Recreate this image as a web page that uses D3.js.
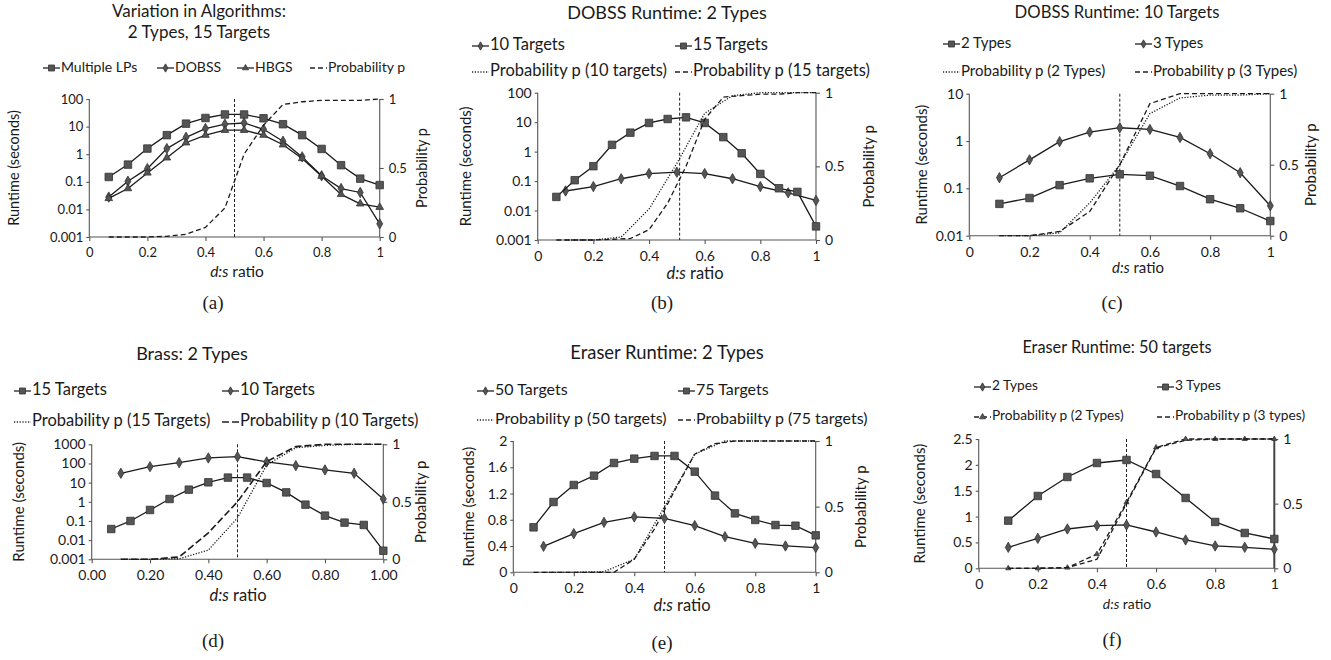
<!DOCTYPE html>
<html lang="en">
<head>
<meta charset="utf-8">
<title>Runtime vs d:s ratio</title>
<script src="https://d3js.org/d3.v7.min.js"></script>
<style type="text/css">
  body { margin: 0; background: #fff; }
  text { font-family: Lato, "Open Sans", sans-serif; fill: #1a1a1a; }
  .cap { font-family: "Liberation Serif", serif; font-size: 19px; }
</style>
</head>
<body>
<script type="text/javascript">

// x positions (d:s ratio)
var x15 = [0.067, 0.133, 0.2, 0.267, 0.333, 0.4, 0.467, 0.533, 0.6, 0.667, 0.733, 0.8, 0.867, 0.933, 1];
var x10 = [0.1, 0.2, 0.3, 0.4, 0.5, 0.6, 0.7, 0.8, 0.9, 1];
var xTicks = [0, 0.2, 0.4, 0.6, 0.8, 1];
var probTicks = [0, 0.5, 1];

// (a) Variation in Algorithms
var aMultipleLPs = [0.15, 0.42, 1.6, 4.9, 12.8, 20.5, 27.5, 27.5, 20, 12.2, 4.9, 1.55, 0.4, 0.13, 0.076];
var aDOBSS = [0.028, 0.105, 0.3, 1.6, 4.1, 8.5, 12.2, 13.5, 8, 2.95, 0.8, 0.165, 0.057, 0.041, 0.003];
var aHBGS = [0.025, 0.057, 0.21, 0.74, 2.6, 4.9, 7.4, 7.4, 4.9, 2.2, 0.7, 0.16, 0.035, 0.016, 0.012];
var aProb = [0, 0, 0, 0.005, 0.02, 0.07, 0.21, 0.6, 0.81, 0.96, 0.98, 0.99, 0.99, 0.99, 1];

// (b) DOBSS Runtime: 2 Types
var b10Targets = [0.046, 0.065, 0.12, 0.18, 0.2, 0.18, 0.12, 0.065, 0.04, 0.022];
var b15Targets = [0.029, 0.107, 0.32, 1.7, 4.4, 9.4, 12.8, 14.6, 9.4, 3.1, 0.88, 0.175, 0.057, 0.043, 0.0029];
var bProb10 = [0, 0, 0.02, 0.21, 0.52, 0.86, 0.98, 1, 1, 1];
var bProb15 = [0, 0, 0, 0.005, 0.01, 0.07, 0.25, 0.5, 0.82, 0.97, 0.98, 0.99, 0.99, 1, 1];

// (c) DOBSS Runtime: 10 Targets
var c2Types = [0.047, 0.0625, 0.117, 0.163, 0.198, 0.185, 0.112, 0.059, 0.038, 0.0204];
var c3Types = [0.168, 0.40, 0.97, 1.55, 1.91, 1.76, 1.19, 0.54, 0.214, 0.043];
var cProb2 = [0, 0, 0.02, 0.23, 0.5, 0.86, 0.97, 0.99, 0.99, 1];
var cProb3 = [0, 0, 0.03, 0.17, 0.5, 0.93, 1, 1, 1, 1];

// (d) Brass: 2 Types
var d15Targets = [0.038, 0.1, 0.375, 1.4, 4.3, 10.4, 18.3, 18.3, 9.6, 3.1, 0.71, 0.19, 0.082, 0.062, 0.0028];
var d10Targets = [30.7, 68, 110, 194, 227, 120, 77, 46, 30.7, 1.4];
var dProb15 = [0, 0, 0.005, 0.08, 0.36, 0.82, 0.97, 0.99, 1, 1];
var dProb10 = [0, 0, 0.02, 0.23, 0.5, 0.85, 0.98, 1, 1, 1];

// (e) Eraser Runtime: 2 Types
var e75Targets = [0.685, 1.071, 1.33, 1.472, 1.665, 1.731, 1.772, 1.772, 1.533, 1.168, 0.898, 0.797, 0.72, 0.71, 0.563];
var e50Targets = [0.396, 0.589, 0.761, 0.843, 0.822, 0.711, 0.543, 0.442, 0.401, 0.376];
var eProb50 = [0, 0, 0.005, 0.1, 0.5, 0.9, 1, 1, 1, 1];
var eProb75 = [0, 0, 0, 0, 0, 0.1, 0.33, 0.62, 0.9, 0.98, 1, 1, 1, 1, 1];

// (f) Eraser Runtime: 50 targets
var f3Types = [0.921, 1.398, 1.765, 2.036, 2.094, 1.823, 1.36, 0.896, 0.683, 0.567];
var f2Types = [0.406, 0.58, 0.76, 0.825, 0.838, 0.702, 0.548, 0.432, 0.406, 0.367];
var fProb2 = [0, 0, 0.005, 0.11, 0.51, 0.935, 1, 1, 1, 1];
var fProb3 = [0, 0, 0.005, 0.07, 0.5, 0.93, 0.99, 1, 1, 1];

var svg = d3.select("body").append("svg")
    .attr("width", 1331)
    .attr("height", 660);

var dashes = { solid: null, dashed: "5,3", dotted: "1.2,1.6", longdash: "7,3" };

function marker(sel, kind, size) {
    var sym = { square: d3.symbolSquare, diamond: d3.symbolDiamond, triangle: d3.symbolTriangle }[kind];
    var area = { square: size * size, diamond: size * size * 0.55, triangle: size * size * 0.45 }[kind];
    sel.append("path")
        .attr("d", d3.symbol().type(sym).size(area))
        .attr("fill", "#555")
        .attr("stroke", "#333")
        .attr("stroke-width", 0.8);
}

function drawPanel(p) {
    var g = svg.append("g");
    var fs = p.fs || 14;
    var x = d3.scaleLinear().domain([0, 1]).range([p.x0, p.x1]);
    var y = (p.log ? d3.scaleLog() : d3.scaleLinear()).domain(p.yDomain).range([p.yBot, p.yTop]);
    var yr = d3.scaleLinear().domain([0, 1]).range([p.yBot, p.yTop]);

    // titles
    p.title.forEach(function (t, i) {
        g.append("text").attr("x", p.tx).attr("y", p.ty + i * 21)
            .attr("text-anchor", "middle").attr("dominant-baseline", "middle")
            .attr("font-size", p.tfs || 18).text(t);
    });

    // legend
    p.legend.forEach(function (l) {
        var lg = g.append("g").attr("transform", "translate(" + l.x + "," + l.y + ")");
        lg.append("line").attr("x1", 0).attr("x2", 17).attr("y1", 0).attr("y2", 0)
            .attr("stroke", "#222").attr("stroke-width", 1.3)
            .attr("stroke-dasharray", dashes[l.line]);
        if (l.marker) {
            var mg = lg.append("g").attr("transform", "translate(8.5,0)");
            marker(mg, l.marker, 6);
        }
        lg.append("text").attr("x", 18).attr("y", 0).attr("dominant-baseline", "middle")
            .attr("font-size", p.lfs || 16).text(l.label);
    });

    // axes
    var xa = g.append("g").attr("transform", "translate(0," + p.yBot + ")")
        .call(d3.axisBottom(x).tickValues(xTicks).tickFormat(d3.format(p.xFmt)).tickSize(4).tickPadding(7));
    var ya = g.append("g").attr("transform", "translate(" + p.x0 + ",0)")
        .call(d3.axisLeft(y).tickValues(p.yTicks).tickFormat(function (d) { return p.yFmt(d); }).tickSize(3).tickPadding(3));
    var ra = g.append("g").attr("transform", "translate(" + p.x1 + ",0)")
        .call(d3.axisRight(yr).tickValues(probTicks).tickFormat(d3.format("")).tickSize(4).tickPadding(5));
    [xa, ya, ra].forEach(function (a) {
        a.attr("font-family", null).attr("font-size", null);
        a.selectAll("text").attr("font-size", fs).attr("fill", "#1a1a1a");
        a.selectAll("path, line").attr("stroke", "#555").attr("stroke-width", 1.1);
    });
    xa.select(".domain").attr("d", "M" + p.x0 + ",0H" + p.x1);
    ya.select(".domain").attr("d", "M0," + p.yBot + "V" + p.yTop);
    ra.select(".domain").attr("d", "M0," + p.yBot + "V" + p.yTop);
    if (p.thickRight) ra.select(".domain").attr("stroke-width", 2).attr("stroke", "#444");

    // axis titles
    var xt = g.append("text").attr("x", p.xtx).attr("y", p.xty).attr("text-anchor", "middle")
        .attr("dominant-baseline", "middle").attr("font-size", p.xtfs || 16.5);
    xt.append("tspan").attr("font-style", "italic").text("d:s");
    xt.append("tspan").text(" ratio");
    g.append("text").attr("transform", "translate(" + p.ylx + "," + ((p.yTop + p.yBot) / 2) + ") rotate(-90)")
        .attr("text-anchor", "middle").attr("dominant-baseline", "middle")
        .attr("font-size", p.ylfs || 15).text("Runtime (seconds)");
    if (p.rlx) {
        g.append("text").attr("transform", "translate(" + p.rlx + "," + ((p.yTop + p.yBot) / 2) + ") rotate(-90)")
            .attr("text-anchor", "middle").attr("dominant-baseline", "middle")
            .attr("font-size", p.rlfs || 15).text("Probability p");
    }

    // vertical reference line
    g.append("line").attr("x1", x(p.vline)).attr("x2", x(p.vline))
        .attr("y1", p.yTop).attr("y2", p.yBot)
        .attr("stroke", "#222").attr("stroke-width", 1).attr("stroke-dasharray", "3,2");

    // series
    p.series.forEach(function (s) {
        var sc = s.axis === "right" ? yr : y;
        var pts = s.x.map(function (v, i) { return [v, s.y[i]]; });
        var line = d3.line().x(function (d) { return x(d[0]); }).y(function (d) { return sc(d[1]); });
        g.append("path").datum(pts).attr("d", line)
            .attr("fill", "none").attr("stroke", "#1a1a1a")
            .attr("stroke-width", s.width || 1.3)
            .attr("stroke-dasharray", dashes[s.line]);
        if (s.marker) {
            g.selectAll(null).data(pts).enter().append("g")
                .attr("transform", function (d) { return "translate(" + x(d[0]) + "," + sc(d[1]) + ")"; })
                .each(function () { marker(d3.select(this), s.marker, s.msize || 7.5); });
        }
    });

    // subcaption
    g.append("text").attr("class", "cap").attr("x", p.cx).attr("y", p.cy)
        .attr("text-anchor", "middle").attr("dominant-baseline", "middle").text(p.caption);
}

var logFmt = function (d) { return String(+d.toPrecision(3)); };

drawPanel({
    x0: 89.3, x1: 379.7, yTop: 99, yBot: 237, log: true, yDomain: [0.001, 100],
    yTicks: [0.001, 0.01, 0.1, 1, 10, 100], yFmt: logFmt, xFmt: "",
    title: ["Variation in Algorithms:", "2 Types, 15 Targets"], tx: 199, ty: 13, tfs: 17,
    legend: [
        { x: 43, y: 68, line: "solid", marker: "square", label: "Multiple LPs" },
        { x: 157, y: 68, line: "solid", marker: "diamond", label: "DOBSS" },
        { x: 237, y: 68, line: "solid", marker: "triangle", label: "HBGS" },
        { x: 310, y: 68, line: "dashed", label: "Probability p" }
    ],
    lfs: 14, fs: 13, xtfs: 15.5, ylfs: 14.5, rlfs: 14.5,
    xtx: 237, xty: 273, ylx: 15, rlx: 423, vline: 0.5,
    series: [
        { x: x15, y: aMultipleLPs, line: "solid", marker: "square" },
        { x: x15, y: aDOBSS, line: "solid", marker: "diamond" },
        { x: x15, y: aHBGS, line: "solid", marker: "triangle" },
        { x: x15, y: aProb, axis: "right", line: "dashed" }
    ],
    caption: "(a)", cx: 213, cy: 305
});

drawPanel({
    x0: 537.7, x1: 816, yTop: 92.7, yBot: 240, log: true, yDomain: [0.001, 100],
    yTicks: [0.001, 0.01, 0.1, 1, 10, 100], yFmt: logFmt, xFmt: "",
    title: ["DOBSS Runtime: 2 Types"], tx: 667, ty: 14, tfs: 18,
    legend: [
        { x: 472, y: 46, line: "solid", marker: "diamond", label: "10 Targets" },
        { x: 675, y: 46, line: "solid", marker: "square", label: "15 Targets" },
        { x: 472, y: 72, line: "dotted", label: "Probability p (10 targets)" },
        { x: 675, y: 72, line: "dashed", label: "Probability p (15 targets)" }
    ],
    lfs: 16.5,
    xtx: 695, xty: 275, ylx: 467, rlx: 870, vline: 0.51,
    series: [
        { x: x10, y: b10Targets, line: "solid", marker: "diamond" },
        { x: x15, y: b15Targets, line: "solid", marker: "square" },
        { x: x10, y: bProb10, axis: "right", line: "dotted" },
        { x: x15, y: bProb15, axis: "right", line: "dashed" }
    ],
    caption: "(b)", cx: 662, cy: 305
});

drawPanel({
    x0: 969.3, x1: 1270.3, yTop: 93.7, yBot: 235.7, log: true, yDomain: [0.01, 10],
    yTicks: [0.01, 0.1, 1, 10], yFmt: logFmt, xFmt: "",
    title: ["DOBSS Runtime: 10 Targets"], tx: 1117, ty: 14, tfs: 16.7,
    legend: [
        { x: 943, y: 44, line: "solid", marker: "square", label: "2 Types" },
        { x: 1135, y: 44, line: "solid", marker: "diamond", label: "3 Types" },
        { x: 943, y: 72, line: "dotted", label: "Probability p (2 Types)" },
        { x: 1135, y: 72, line: "dashed", label: "Probability p (3 Types)" }
    ],
    lfs: 15, xtfs: 15,
    xtx: 1138, xty: 269, ylx: 923, rlx: 1312, vline: 0.5,
    series: [
        { x: x10, y: c2Types, line: "solid", marker: "square" },
        { x: x10, y: c3Types, line: "solid", marker: "diamond" },
        { x: x10, y: cProb2, axis: "right", line: "dotted" },
        { x: x10, y: cProb3, axis: "right", line: "dashed" }
    ],
    caption: "(c)", cx: 1112, cy: 305
});

drawPanel({
    x0: 91.7, x1: 383.3, yTop: 444.3, yBot: 559.3, log: true, yDomain: [0.001, 1000],
    yTicks: [0.001, 0.01, 0.1, 1, 10, 100, 1000], yFmt: logFmt, xFmt: ".2f",
    title: ["Brass: 2 Types"], tx: 192, ty: 355, tfs: 18,
    legend: [
        { x: 14, y: 391, line: "solid", marker: "square", label: "15 Targets" },
        { x: 222, y: 391, line: "solid", marker: "diamond", label: "10 Targets" },
        { x: 14, y: 422, line: "dotted", label: "Probability p (15 Targets)" },
        { x: 222, y: 422, line: "longdash", label: "Probability p (10 Targets)" }
    ],
    lfs: 16.5,
    xtx: 238, xty: 597, ylx: 20, rlx: 422, vline: 0.5,
    series: [
        { x: x15, y: d15Targets, line: "solid", marker: "square" },
        { x: x10, y: d10Targets, line: "solid", marker: "diamond" },
        { x: x10, y: dProb15, axis: "right", line: "dotted" },
        { x: x10, y: dProb10, axis: "right", line: "longdash", width: 1.6 }
    ],
    caption: "(d)", cx: 213, cy: 643
});

drawPanel({
    x0: 513.3, x1: 815.7, yTop: 441, yBot: 572.3, log: false, yDomain: [0, 2],
    yTicks: [0, 0.4, 0.8, 1.2, 1.6, 2], yFmt: d3.format(""), xFmt: "",
    title: ["Eraser Runtime: 2 Types"], tx: 667, ty: 354, tfs: 18.4,
    legend: [
        { x: 477, y: 391, line: "solid", marker: "diamond", label: "50 Targets" },
        { x: 678, y: 391, line: "solid", marker: "square", label: "75 Targets" },
        { x: 477, y: 420, line: "dotted", label: "Probability p (50 targets)" },
        { x: 678, y: 420, line: "dashed", label: "Probabiilty p (75 targets)" }
    ],
    lfs: 16,
    xtx: 682, xty: 607, ylx: 470, rlx: 862, vline: 0.5,
    series: [
        { x: x10, y: e50Targets, line: "solid", marker: "diamond" },
        { x: x15, y: e75Targets, line: "solid", marker: "square" },
        { x: x10, y: eProb50, axis: "right", line: "dotted" },
        { x: x15, y: eProb75, axis: "right", line: "dashed" }
    ],
    caption: "(e)", cx: 662, cy: 645
});

drawPanel({
    x0: 978.7, x1: 1274.3, yTop: 439, yBot: 568.3, log: false, yDomain: [0, 2.5],
    yTicks: [0, 0.5, 1, 1.5, 2, 2.5], yFmt: d3.format(""), xFmt: "",
    title: ["Eraser Runtime: 50 targets"], tx: 1117, ty: 349, tfs: 16.3,
    legend: [
        { x: 974, y: 387, line: "solid", marker: "diamond", label: "2 Types" },
        { x: 1157, y: 387, line: "solid", marker: "square", label: "3 Types" },
        { x: 974, y: 417, line: "dashed", marker: "triangle", label: " Probability p (2 Types)" },
        { x: 1157, y: 417, line: "dashed", label: " Probability p (3 types)" }
    ],
    lfs: 13.7, xtfs: 14, ylfs: 15,
    xtx: 1127, xty: 605, ylx: 921, rlx: null, vline: 0.5, thickRight: true,
    series: [
        { x: x10, y: f3Types, line: "solid", marker: "square" },
        { x: x10, y: f2Types, line: "solid", marker: "diamond" },
        { x: x10, y: fProb2, axis: "right", line: "dashed", marker: "triangle", msize: 5 },
        { x: x10, y: fProb3, axis: "right", line: "dashed" }
    ],
    caption: "(f)", cx: 1112, cy: 642
});

</script>
</body>
</html>
